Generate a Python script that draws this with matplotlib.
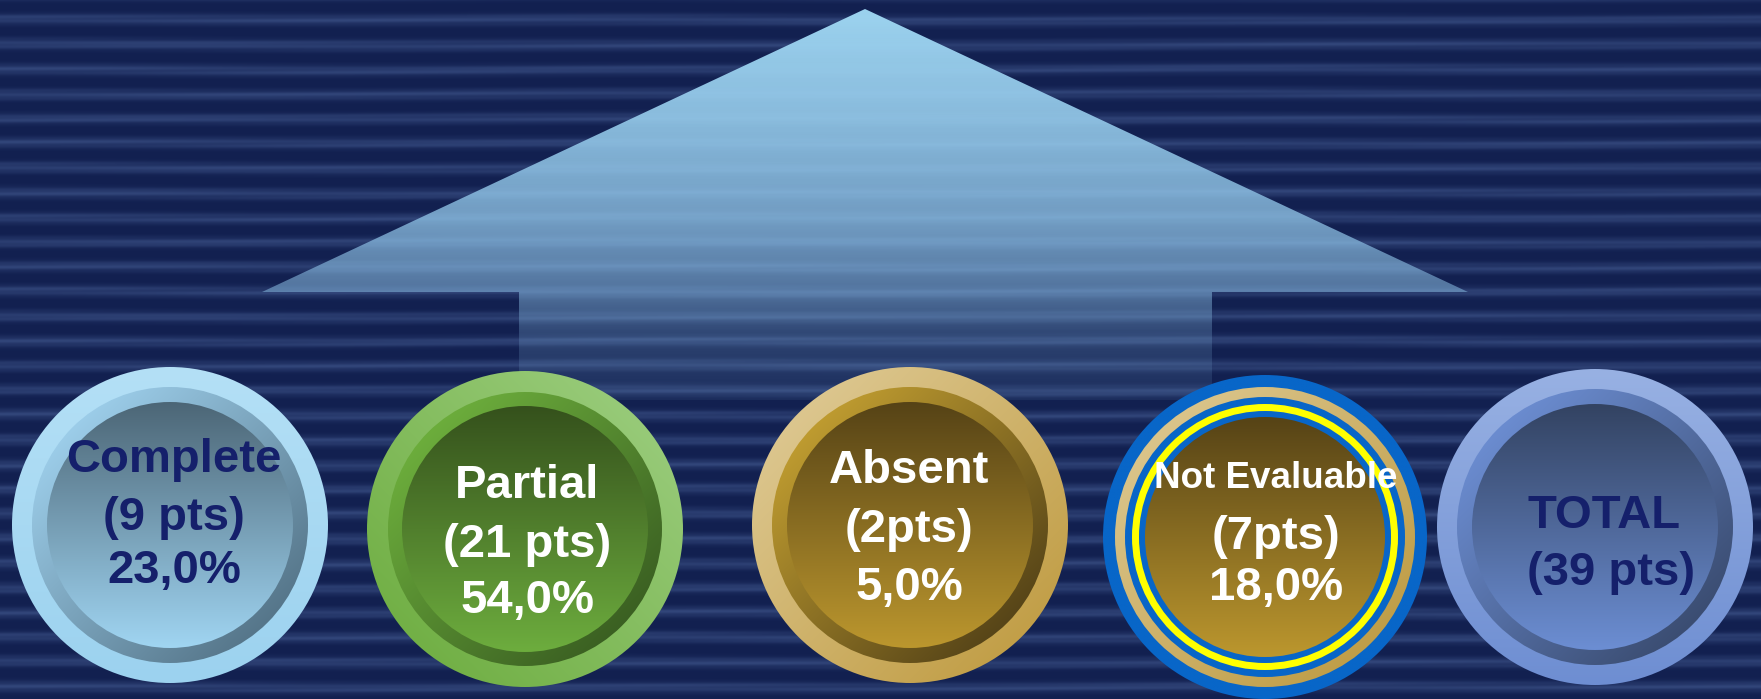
import numpy as np
import matplotlib.pyplot as plt
from matplotlib import colors as mcolors
from matplotlib.patches import Circle, Polygon

plt.rcParams['font.family'] = ['Liberation Sans', 'DejaVu Sans']

W, H = 1761, 699

# scores per category
labels = ["Complete", "Partial", "Absent", "Not Evaluable", "TOTAL"]
points = [9, 21, 2, 7, 39]
pts_gap = [" ", " ", "", "", " "]
percents = [23.0, 54.0, 5.0, 18.0, None]

# badge layout: centre, text colour, text x shift, baselines, font sizes
centres = [(170, 525), (525, 529), (910, 525), (1265, 537), (1595, 527)]
text_col = ["#15206b", "white", "white", "white", "#15206b"]
text_dx = [4, 2, -1, 11, None]
baselines = [(-53, 5, 58), (-31, 28, 84), (-42, 17, 75), (-49, 12, 63), (1, 58)]
sizes = [(34, 34, 34), (34, 34, 34), (34, 34, 34), (26.5, 34, 34), (34, 34)]

DOWN = (0, 1)
DIAG = (0.7, 0.7)
ANTI = (-0.7, 0.7)

# ring layers from outside in: radius, colour a, colour b, gradient direction
layers = [
    [(158, "#b4e0f6", "#9cd2ef", DOWN),
     (138, "#9ccde9", "#56768a", DIAG),
     (123, "#4c6676", "#a0d5f2", DOWN)],
    [(158, "#97ca78", "#72b046", ANTI),
     (137, "#6cad3c", "#3b6022", DIAG),
     (123, "#35511c", "#6dad3e", DOWN)],
    [(158, "#dcc68e", "#c29f48", DIAG),
     (138, "#be9b30", "#574518", DIAG),
     (123, "#564316", "#bc972e", DOWN)],
    [(162, "#0866c8", "#0866c8", DOWN),
     (150, "#dac48a", "#c09e48", DIAG),
     (140, "#0866c8", "#0866c8", DOWN),
     (133, "#ffff00", "#ffff00", DOWN),
     (126, "#0866c8", "#0866c8", DOWN),
     (120, "#564316", "#bc972e", DOWN)],
    [(158, "#98b1e3", "#6e8ed2", DOWN),
     (138, "#6b8cd0", "#3b4d72", DIAG),
     (123, "#334362", "#6c8ed3", DOWN)],
]


def gradient_disc(ax, cx, cy, r, c0, c1, direction, z):
    n = 300
    s = np.linspace(-1, 1, n)
    gx, gy = np.meshgrid(s, s)
    dx, dy = direction
    t = (gx * dx + gy * dy) / np.hypot(dx, dy) * 0.5 + 0.5
    t = np.clip(t, 0, 1)[..., None]
    a = np.array(mcolors.to_rgb(c0))
    b = np.array(mcolors.to_rgb(c1))
    img = a * (1 - t) + b * t
    im = ax.imshow(img, extent=(cx - r, cx + r, cy + r, cy - r), origin='upper',
                   interpolation='bilinear', aspect='auto', zorder=z)
    im.set_clip_path(Circle((cx, cy), r, transform=ax.transData))


fig = plt.figure(figsize=(W / 100, H / 100), dpi=100)
ax = fig.add_axes([0, 0, 1, 1])
ax.set_axis_off()

# striped navy backdrop, soft horizontal bands
yy, xx = np.mgrid[0:H, 0:W].astype(float)
wob = 0.8 * np.sin(xx / 310 + yy * 0.05) + 0.5 * np.sin(xx / 97 + 1.3)
v = 0.5 + 0.5 * np.cos(2 * np.pi * (yy + wob - 19.6) / 24.7)
v = v ** 2
v *= 0.8 + 0.2 * np.sin(xx / 140 + yy * 0.9) * np.sin(xx / 260 - yy * 0.3)
navy = np.array([18, 32, 80]) / 255
light = np.array([50, 70, 122]) / 255
bg = navy * (1 - v[..., None]) + light * v[..., None]
ax.imshow(bg, extent=(0, W, H, 0), origin='upper', aspect='auto',
          interpolation='bilinear', zorder=0)

# upward arrow fading into the background
verts = [(865, 9), (1468, 292), (1212, 292), (1212, 400),
         (519, 400), (519, 292), (262, 292)]
ay0, ay1 = 9, 400
ys = np.linspace(ay0, ay1, 400)
alpha = np.interp(ys, [9, 112, 225, 292, 337, 400], [1.0, 0.9, 0.73, 0.5, 0.22, 0.08])
top = np.array([157, 212, 240]) / 255
bot = np.array([140, 192, 232]) / 255
f = ((ys - ay0) / (ay1 - ay0))[:, None]
rgb = top * (1 - f) + bot * f
arr = np.concatenate([rgb, alpha[:, None]], axis=1)[:, None, :].repeat(2, axis=1)
im = ax.imshow(arr, extent=(262, 1468, ay1, ay0), origin='upper',
               interpolation='bilinear', aspect='auto', zorder=1)
im.set_clip_path(Polygon(verts, closed=True, transform=ax.transData))

# badges
for i, (cx, cy) in enumerate(centres):
    for k, (r, c0, c1, d) in enumerate(layers[i]):
        gradient_disc(ax, cx, cy, r, c0, c1, d, 2 + k * 0.01)

    lines = [labels[i], "(%d%spts)" % (points[i], pts_gap[i])]
    if percents[i] is not None:
        lines.append(("%.1f" % percents[i]).replace(".", ",") + "%")
    for j, txt in enumerate(lines):
        if text_dx[i] is None:
            x, ha = 1527, 'left'
        else:
            x, ha = cx + text_dx[i], 'center'
        ax.text(x, cy + baselines[i][j], txt, ha=ha, va='baseline',
                fontsize=sizes[i][j], fontweight='bold', color=text_col[i], zorder=5)

ax.set_xlim(0, W)
ax.set_ylim(H, 0)
fig.savefig("out.png", dpi=100)
